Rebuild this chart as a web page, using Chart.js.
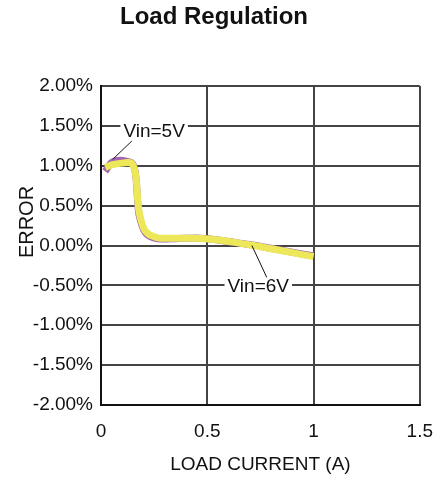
<!DOCTYPE html>
<html>
<head>
<meta charset="utf-8">
<script src="https://cdn.jsdelivr.net/npm/chart.js@4/dist/chart.umd.min.js"></script>
<style>
  html, body { margin: 0; padding: 0; background: #fff; }
  #wrap { width: 448px; height: 480px; }
</style>
</head>
<body>
<div id="wrap"><canvas id="chart" width="448" height="480"></canvas></div>
<script>
// load current (A) and output error (%)
const currentA   = [0.02, 0.05, 0.09, 0.13, 0.15, 0.165, 0.175, 0.185, 0.20, 0.22, 0.25, 0.28, 0.35, 0.45, 0.55, 0.65, 0.72, 0.80, 0.90, 1.00];
const err5V      = [0.93, 1.04, 1.07, 1.05, 1.02, 0.84, 0.46, 0.32, 0.20, 0.13, 0.095, 0.08, 0.085, 0.095, 0.07, 0.03, 0.005, -0.035, -0.085, -0.13];
const err6V      = [0.98, 1.01, 1.03, 1.04, 1.01, 0.85, 0.50, 0.35, 0.22, 0.15, 0.11, 0.09, 0.09, 0.09, 0.07, 0.03, 0.00, -0.04, -0.09, -0.14];
const xTicks     = [0, 0.5, 1, 1.5];
const yTicks     = [-2, -1.5, -1, -0.5, 0, 0.5, 1, 1.5, 2];
const labels     = [
  { text: 'Vin=5V', at: [0.25, 1.42], from: [0.145, 1.31], to: [0.055, 1.08] },
  { text: 'Vin=6V', at: [0.74, -0.52], from: [0.78, -0.40], to: [0.71, 0.00] },
];

const FONT = '"Liberation Sans", Arial, Helvetica, sans-serif';
const pts = (ys) => currentA.map((x, i) => ({ x, y: ys[i] }));

// title, y axis name and curve labels with leader lines
const extras = {
  id: 'extras',
  afterDraw(chart) {
    const { ctx, scales: { x, y } } = chart;
    ctx.save();
    ctx.fillStyle = '#111';
    ctx.textAlign = 'center';
    ctx.textBaseline = 'middle';
    ctx.font = 'bold 24px ' + FONT;
    ctx.fillText('Load Regulation', 214, 17);

    ctx.save();
    ctx.translate(27, 222);
    ctx.rotate(-Math.PI / 2);
    ctx.font = '20px ' + FONT;
    ctx.fillText('ERROR', 0, 0);
    ctx.restore();

    ctx.font = '19px ' + FONT;
    labels.forEach((l) => {
      const cx = x.getPixelForValue(l.at[0]);
      const cy = y.getPixelForValue(l.at[1]);
      const w = ctx.measureText(l.text).width;
      ctx.fillStyle = '#fff';
      ctx.fillRect(cx - w / 2 - 3, cy - 10, w + 6, 20);
      ctx.fillStyle = '#111';
      ctx.fillText(l.text, cx, cy);
      ctx.strokeStyle = '#111';
      ctx.lineWidth = 1;
      ctx.beginPath();
      ctx.moveTo(x.getPixelForValue(l.from[0]), y.getPixelForValue(l.from[1]));
      ctx.lineTo(x.getPixelForValue(l.to[0]), y.getPixelForValue(l.to[1]));
      ctx.stroke();
    });
    ctx.restore();
  },
};

new Chart(document.getElementById('chart'), {
  type: 'line',
  data: {
    datasets: [
      {
        label: 'Vin=6V',
        data: pts(err6V),
        borderColor: '#ece85a',
        borderWidth: 7,
        pointRadius: 0,
        order: 0,
        cubicInterpolationMode: 'monotone',
      },
      {
        label: 'Vin=5V',
        data: pts(err5V),
        borderColor: '#a366b0',
        borderWidth: 7,
        pointRadius: 0,
        order: 1,
        cubicInterpolationMode: 'monotone',
      },
    ],
  },
  options: {
    responsive: false,
    animation: false,
    layout: { padding: { top: 86, right: 28, left: 0, bottom: 0 } },
    plugins: { legend: { display: false }, tooltip: { enabled: false } },
    scales: {
      x: {
        type: 'linear',
        min: 0,
        max: 1.5,
        afterBuildTicks: (s) => { s.ticks = xTicks.map((v) => ({ value: v })); },
        afterFit: (s) => { s.height = 75; },
        border: { color: '#111', width: 2 },
        grid: { color: '#444', lineWidth: 2, drawTicks: false },
        ticks: { color: '#111', font: { family: FONT, size: 19 }, padding: 15, maxRotation: 0, callback: (v) => String(v) },
        title: { display: true, text: 'LOAD CURRENT (A)', color: '#111', font: { family: FONT, size: 19 }, padding: { top: 6 } },
      },
      y: {
        min: -2,
        max: 2,
        afterBuildTicks: (s) => { s.ticks = yTicks.map((v) => ({ value: v })); },
        afterFit: (s) => { s.width = 101; },
        border: { color: '#111', width: 2 },
        grid: { color: '#444', lineWidth: 2, drawTicks: false },
        ticks: {
          color: '#111',
          font: { family: FONT, size: 19 },
          padding: 8,
          callback: (v) => v.toFixed(2) + '%',
        },
      },
    },
  },
  plugins: [extras],
});
</script>
</body>
</html>
